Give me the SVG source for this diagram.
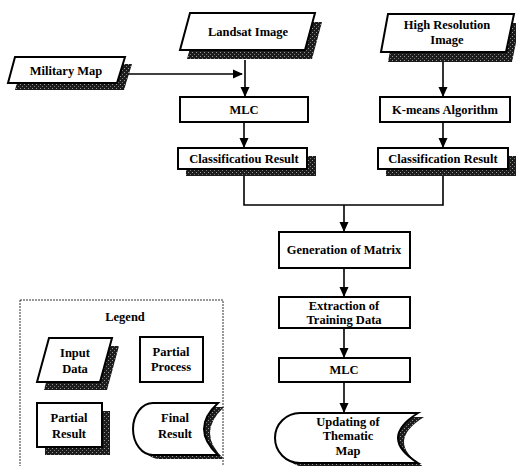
<svg xmlns="http://www.w3.org/2000/svg" width="516" height="466" viewBox="0 0 516 466">
<defs>
<pattern id="sh" width="4" height="4" patternUnits="userSpaceOnUse">
<rect width="4" height="4" fill="#1c1c1c"/>
<rect x="0" y="0" width="1" height="1" fill="#9a9a9a"/>
<rect x="2" y="2" width="1" height="1" fill="#777"/>
</pattern>
<marker id="ah" markerWidth="10" markerHeight="10" refX="9" refY="5" orient="auto" markerUnits="userSpaceOnUse">
<path d="M0,0.5 L10,5 L0,9.5 Z" fill="#000"/>
</marker>
<style>
.b{fill:#fff;stroke:#000;stroke-width:2}
.s{fill:url(#sh);stroke:none}
.t{font-family:"Liberation Serif",serif;font-weight:bold;font-size:12.5px;fill:#000;text-anchor:middle}
.c{fill:none;stroke:#000;stroke-width:1.6}
</style>
</defs>
<rect width="516" height="466" fill="#fff"/>

<g id="connectors">
<path class="c" d="M128,74 H242" marker-end="url(#ah)"/>
<path class="c" d="M245,60 V96" marker-end="url(#ah)"/>
<path class="c" d="M443,62 V96" marker-end="url(#ah)"/>
<path class="c" d="M244,122 V147" marker-end="url(#ah)"/>
<path class="c" d="M443,122 V147" marker-end="url(#ah)"/>
<path class="c" d="M244,176 V205 H443 V176"/>
<path class="c" d="M344,205 V231" marker-end="url(#ah)"/>
<path class="c" d="M344,268 V296" marker-end="url(#ah)"/>
<path class="c" d="M344,328 V357" marker-end="url(#ah)"/>
<path class="c" d="M344,382 V412" marker-end="url(#ah)"/>
</g>

<g id="landsat">
<polygon class="s" points="197,22 322,22 312,59 187,59"/>
<polygon class="b" points="190,13 315,13 305,50 180,50"/>
<text class="t" x="248" y="36">Landsat Image</text>
</g>

<g id="highres">
<polygon class="s" points="395,23 520,23 512,62 388,62"/>
<polygon class="b" points="388,14 514,14 506,52 381,52"/>
<text class="t" x="447" y="29">High Resolution</text>
<text class="t" x="447" y="44">Image</text>
</g>

<g id="military">
<polygon class="s" points="22,64 132,64 124,90 15,90"/>
<polygon class="b" points="15,57 125,57 117,83 8,83"/>
<text class="t" x="66" y="75">Military Map</text>
</g>

<g id="mlc1">
<rect class="b" x="180" y="97" width="128" height="25"/>
<text class="t" x="244" y="114">MLC</text>
</g>

<g id="kmeans">
<rect class="b" x="380" y="97" width="130" height="25"/>
<text class="t" x="445" y="114">K-means Algorithm</text>
</g>

<g id="class1">
<rect class="s" x="186" y="156" width="130" height="20"/>
<rect class="b" x="178" y="148" width="129" height="21"/>
<text class="t" x="244" y="163">Classificatiou Result</text>
</g>

<g id="class2">
<rect class="s" x="386" y="156" width="130" height="20"/>
<rect class="b" x="378" y="148" width="130" height="21"/>
<text class="t" x="443" y="163">Classification Result</text>
</g>

<g id="matrix">
<rect class="b" x="279" y="232" width="131" height="36"/>
<text class="t" x="344" y="254">Generation of Matrix</text>
</g>

<g id="extraction">
<rect class="b" x="279" y="297" width="131" height="31"/>
<text class="t" x="344" y="310">Extraction of</text>
<text class="t" x="344" y="324">Training Data</text>
</g>

<g id="mlc2">
<rect class="b" x="279" y="358" width="131" height="24"/>
<text class="t" x="344" y="374">MLC</text>
</g>

<g id="updating">
<path class="s" d="M306,417 L424,417 Q384,442 424,467 L306,467 A25,25 0 0 1 306,417 Z"/>
<path class="b" d="M300,413 L418,413 Q378,438 418,463 L300,463 A25,25 0 0 1 300,413 Z"/>
<text class="t" x="348" y="426">Updating of</text>
<text class="t" x="348" y="440">Thematic</text>
<text class="t" x="348" y="455">Map</text>
</g>

<g id="legend">
<rect x="20" y="300" width="203" height="170" fill="none" stroke="#333" stroke-width="1" stroke-dasharray="2,1"/>
<text class="t" x="125" y="321">Legend</text>
<polygon class="s" points="56,346 119,346 107,390 44,390"/>
<polygon class="b" points="49,338 112,338 100,382 37,382"/>
<text class="t" x="75" y="357">Input</text>
<text class="t" x="75" y="373">Data</text>
<rect class="b" x="140" y="337" width="63" height="45"/>
<text class="t" x="171" y="356">Partial</text>
<text class="t" x="171" y="371">Process</text>
<rect class="s" x="45" y="411" width="65" height="44"/>
<rect class="b" x="37" y="403" width="65" height="44"/>
<text class="t" x="69" y="422">Partial</text>
<text class="t" x="69" y="438">Result</text>
<path class="s" d="M159,407 L224,407 Q196,433 224,459 L159,459 A20,26 0 0 1 159,407 Z"/>
<path class="b" d="M153,403 L218,403 Q190,429 218,455 L153,455 A20,26 0 0 1 153,403 Z"/>
<text class="t" x="175" y="422">Final</text>
<text class="t" x="175" y="438">Result</text>
</g>
</svg>
